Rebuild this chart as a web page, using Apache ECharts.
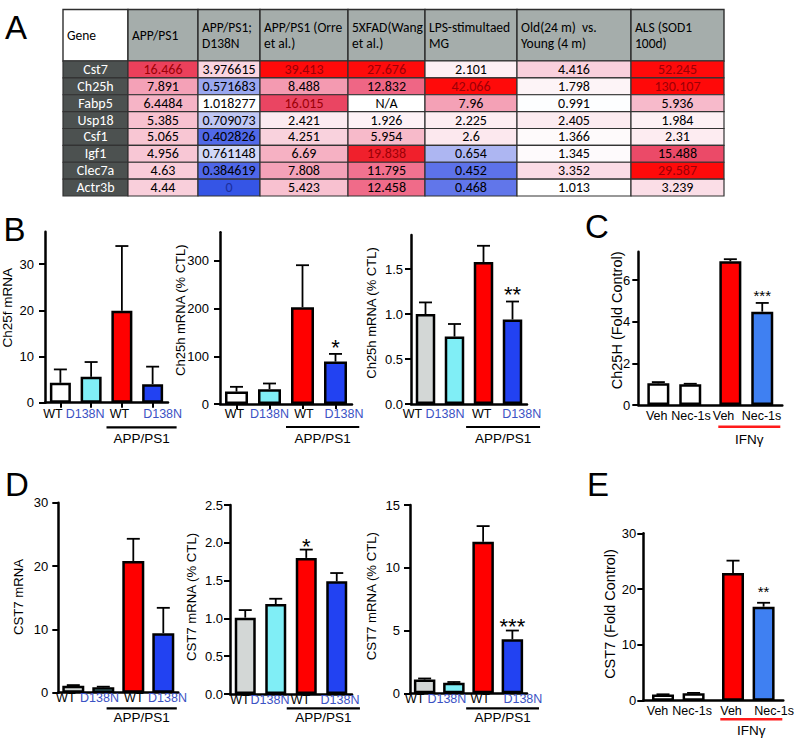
<!DOCTYPE html>
<html><head><meta charset="utf-8">
<script src="https://cdn.jsdelivr.net/npm/echarts@6/dist/echarts.min.js"></script>
<style>html,body{margin:0;padding:0;background:#fff}#c{width:796px;height:738px}</style>
</head><body><div id="c"></div>
<script>
// ================= DATA =================
// Panel A table
const genes = ['Cst7','Ch25h','Fabp5','Usp18','Csf1','Igf1','Clec7a','Actr3b'];
const geneHeader = 'Gene';
const tableColumns = ['APP/PS1','APP/PS1;\nD138N','APP/PS1 (Orre\net al.)','5XFAD(Wang\net al.)','LPS-stimultaed\nMG','Old(24 m)  vs.\nYoung (4 m)','ALS (SOD1\n100d)'];
const colAPP   = [16.466, 7.891, 6.4484, 5.385, 5.065, 4.956, 4.63, 4.44];
const colD138N = [3.976615, 0.571683, 1.018277, 0.709073, 0.402826, 0.761148, 0.384619, 0];
const colOrre  = [39.413, 8.488, 16.015, 2.421, 4.251, 6.69, 7.808, 5.423];
const col5XFAD = [27.676, 12.832, null, 1.926, 5.954, 19.838, 11.795, 12.458];
const colLPS   = [2.101, 42.066, 7.96, 2.225, 2.6, 0.654, 0.452, 0.468];
const colOld   = [4.416, 1.798, 0.991, 2.405, 1.366, 1.345, 3.352, 1.013];
const colALS   = [52.245, 130.107, 5.936, 1.984, 2.31, 15.488, 29.587, 3.239];

// Panels B / D (genotype groups)
const genotypeLabels = ['WT','D138N','WT','D138N'];
const genotypeGroup = 'APP/PS1';
const b1Mean = [4.3, 5.6, 19.9, 4.0];   const b1Sem = [2.9, 3.2, 14.0, 3.8];  const b1Sig = ['','','',''];
const b2Mean = [26, 31, 203, 89];       const b2Sem = [10, 12, 88, 16];       const b2Sig = ['','','','*'];
const b3Mean = [1.0, 0.75, 1.58, 0.94]; const b3Sem = [0.13, 0.14, 0.18, 0.20]; const b3Sig = ['','','','**'];
const d1Mean = [1.1, 0.85, 20.8, 9.4];  const d1Sem = [0.1, 0.1, 3.5, 4.0];   const d1Sig = ['','','',''];
const d2Mean = [1.01, 1.19, 1.80, 1.49]; const d2Sem = [0.10, 0.07, 0.11, 0.11]; const d2Sig = ['','','*',''];
const d3Mean = [1.1, 0.84, 12.07, 4.3]; const d3Sem = [0.08, 0.06, 1.25, 0.7]; const d3Sig = ['','','','***'];

// Panels C / E (treatment groups)
const conditionGroups = ['Control','IFNγ'];
const treatmentGroup = 'IFNγ';
const treatLabels = ['Veh','Nec-1s'];
const cVehMean = [1.04, 6.9];  const cVehSem = [0.06, 0.1];  const cVehSig = ['',''];
const cNecMean = [1.0, 4.48];  const cNecSem = [0.02, 0.42]; const cNecSig = ['','***'];
const eVehMean = [1.1, 22.9];  const eVehSem = [0.05, 2.2];  const eVehSig = ['',''];
const eNecMean = [1.35, 16.85]; const eNecSem = [0.05, 0.7]; const eNecSig = ['','**'];

// Axis tick labels
const b1Ticks = [0,10,20,30];
const b2Ticks = [0,100,200,300];
const b3Ticks = [0,0.5,1.0,1.5];
const cTicks  = [0,2,4,6];
const d1Ticks = [0,10,20,30];
const d2Ticks = [0,0.5,1.0,1.5,2.0,2.5];
const d3Ticks = [0,5,10,15];
const eTicks  = [0,10,20,30];

// ================= STYLE / LAYOUT =================
const FONT = "'Liberation Sans', Arial, Helvetica, sans-serif";
const TFONT = "Carlito, Lato, 'Open Sans', sans-serif";
const WHITE = '#ffffff', CYAN = '#80eef6', RED = '#ff0000', BLUE = '#2242f2', GRAY = '#d3d7d6', LBLUE = '#3f80f2';
const LABEL_BLUE = '#3b52c4';
const XLABEL_SIZE = 12.5;
const colorsB = [WHITE, CYAN, RED, BLUE];
const colorsD = [GRAY, CYAN, RED, BLUE];

const colEdges = [63,128,198,260,348,425,517,631,724];
const headTop = 9.5, headH = 51.5, bodyTop = 61, bodyH = 135;

const blueStops = [[0,'#3555e6'],[0.4,'#5068e8'],[0.47,'#6176ea'],[0.57,'#9aa8f0'],[0.66,'#aeb7f2'],[0.76,'#d2d8f7'],[1,'#ffffff']];
const redStops = [[1,'#ffffff'],[2,'#fdf1f5'],[3.3,'#fbdde6'],[4.4,'#f9d0dc'],[5.1,'#f8c5d3'],[6.5,'#f6b3c5'],[8,'#f4a0b6'],[12.5,'#f06a89'],[16,'#ea4562'],[20,'#f01e2a'],[28,'#ff0a0a'],[1000,'#ff0000']];
function hex(c){return [parseInt(c.slice(1,3),16),parseInt(c.slice(3,5),16),parseInt(c.slice(5,7),16)];}
function interp(stops, v){
  if (v <= stops[0][0]) return stops[0][1];
  for (let i=1;i<stops.length;i++){
    if (v <= stops[i][0]) {
      const t = (v - stops[i-1][0])/(stops[i][0]-stops[i-1][0]);
      const a = hex(stops[i-1][1]), b = hex(stops[i][1]);
      return 'rgb(' + a.map((x,j)=>Math.round(x+(b[j]-x)*t)).join(',') + ')';
    }
  }
  return stops[stops.length-1][1];
}
function cellColor(v){ if (v === null) return '#ffffff'; return v < 1 ? interp(blueStops, v) : interp(redStops, v); }
function cellText(v){ if (v === null) return '#000'; if (v >= 16) return '#9c0006'; if (v === 0) return '#1c2f9c'; return '#000'; }

const grids = [], xAxes = [], yAxes = [], series = [];
function addGrid(g, x, y){
  g.outerBoundsMode = 'none'; g.containLabel = false;
  grids.push(g); const i = grids.length - 1;
  x.gridIndex = i; y.gridIndex = i; xAxes.push(x); yAxes.push(y); return i;
}
function shiftPad(s){ return s >= 0 ? [0,0,0,2*s] : [0,-2*s,0,0]; }

// ---- Table ----
const headerNames = [geneHeader].concat(tableColumns);
const bodyCols = [null, colAPP, colD138N, colOrre, col5XFAD, colLPS, colOld, colALS];
headerNames.forEach((name, k) => {
  const left = colEdges[k], width = colEdges[k+1] - colEdges[k];
  const gh = addGrid({left, top: headTop, width, height: headH},
    {type:'category', data:[name], show:false},
    {type:'category', data:['header'], show:false});
  series.push({type:'custom', xAxisIndex:gh, yAxisIndex:gh, silent:true, data:[[0,0]],
    renderItem: (p, api) => {
      const c = api.coord([0,0]), s = api.size([1,1]);
      const x0 = c[0]-s[0]/2, y0 = c[1]-s[1]/2;
      return {type:'group', children:[
        {type:'rect', shape:{x:x0,y:y0,width:s[0],height:s[1]}, style:{fill: k===0?'#ffffff':'#a5adab', stroke:'#2e2e2e', lineWidth:1.4}},
        {type:'text', style:{text:name, x:x0+4, y:c[1], align:'left', verticalAlign:'middle', fill:'#000', fontSize:13.5, fontFamily:TFONT, lineHeight:16.5}}
      ]};
    }});
  const gb = addGrid({left, top: bodyTop, width, height: bodyH},
    {type:'category', data:[name], show:false},
    {type:'category', data:genes, inverse:true, show:false});
  const vals = bodyCols[k];
  series.push({type:'custom', xAxisIndex:gb, yAxisIndex:gb, silent:true, data: genes.map((g,i)=>[0,i]),
    renderItem: (p, api) => {
      const c = api.coord([0, api.value(1)]), s = api.size([1,1]);
      const x0 = c[0]-s[0]/2, y0 = c[1]-s[1]/2;
      let fill, txt, tcol;
      if (k === 0) { fill = '#4c5150'; txt = genes[p.dataIndex]; tcol = '#ffffff'; }
      else { const v = vals[p.dataIndex]; fill = cellColor(v); txt = v === null ? 'N/A' : String(v); tcol = cellText(v); }
      return {type:'group', children:[
        {type:'rect', shape:{x:x0,y:y0,width:s[0],height:s[1]}, style:{fill, stroke:'#333', lineWidth:1.2}},
        {type:'text', style:{text:txt, x:c[0], y:c[1], align:'center', verticalAlign:'middle', fill:tcol, fontSize:14, fontFamily:TFONT}}
      ]};
    }});
});

// ---- Helpers for bar charts ----
function errRender(sigs, offset, capHalf, starSize, starGap){
  return function(params, api){
    const x = api.value(0), m = api.value(1), s = api.value(2);
    const p0 = api.coord([x, m]), p1 = api.coord([x, m + s]);
    const cx = p0[0] + offset;
    const ch = [
      {type:'line', shape:{x1:cx, y1:p0[1], x2:cx, y2:p1[1]}, style:{stroke:'#000', lineWidth:1.8}},
      {type:'line', shape:{x1:cx-capHalf, y1:p1[1], x2:cx+capHalf, y2:p1[1]}, style:{stroke:'#000', lineWidth:1.8}}
    ];
    const sig = sigs[params.dataIndex];
    if (sig) ch.push({type:'text', style:{text:sig, x:cx, y:p1[1]-starGap+0.22*starSize, align:'center', verticalAlign:'middle', fill:'#000', fontSize:starSize, fontFamily:FONT}});
    return {type:'group', children:ch};
  };
}
function yAxisCfg(c){
  return {type:'value', min:0, max:c.yMax, interval:c.yInterval,
    name:c.name, nameLocation:'middle', nameGap:c.nameGap, nameRotate:90, nameMoveOverlap:false,
    nameTextStyle:{fontSize:c.nameSize, fontFamily:FONT, color:'#000', padding:shiftPad(c.nameShift)},
    axisLine:{show:true, lineStyle:{color:'#000', width:2.5}},
    axisTick:{show:true, length:6, lineStyle:{color:'#000', width:2}, customValues:c.yTicks},
    axisLabel:{fontSize:13, color:'#000', fontFamily:FONT, margin:c.yLabelMargin, customValues:c.yTicks,
      formatter: c.yFmt || (v => String(v))},
    splitLine:{show:false}};
}
function genotypeChart(c){
  const rich = {};
  c.labelShift.forEach((s, i) => {
    rich['s' + i] = {color: genotypeLabels[i] === 'WT' ? '#000' : LABEL_BLUE, fontSize:XLABEL_SIZE, fontFamily:FONT, padding:shiftPad(s)};
  });
  const gi = addGrid(c.grid,
    {type:'category', data:genotypeLabels,
      axisLine:{show:true, lineStyle:{color:'#000', width:2.5}},
      axisTick:{show:c.xTicks, alignWithLabel:true, length:5, lineStyle:{color:'#000', width:2}},
      axisLabel:{interval:0, margin:c.xLabelMargin, formatter: (v, i) => '{s' + i + '|' + v + '}', rich}},
    yAxisCfg(c));
  series.push({type:'bar', xAxisIndex:gi, yAxisIndex:gi, data:c.means, barWidth:c.barWidth, silent:true,
    itemStyle:{color: p => c.colors[p.dataIndex], borderColor:'#000', borderWidth:2.5}});
  series.push({type:'custom', xAxisIndex:gi, yAxisIndex:gi, silent:true, z:3,
    data:c.means.map((m,i)=>[i, m, c.sems[i]]), encode:{x:0, y:1},
    renderItem: errRender(c.sigs, 0, 6.5, c.starSize, c.starGap)});
  const br = c.bracket;
  series.push({type:'custom', xAxisIndex:gi, yAxisIndex:gi, silent:true, data:[[2, 0, 3]], encode:{x:0, y:1},
    renderItem: (p, api) => {
      const a = api.coord([api.value(0), 0]), b = api.coord([api.value(2), 0]);
      const band = api.size([1, 0])[0];
      const x1 = a[0] + br.l*band, x2 = b[0] + br.r*band;
      return {type:'group', children:[
        {type:'line', shape:{x1, y1:a[1]+br.lineDy, x2, y2:a[1]+br.lineDy}, style:{stroke:'#000', lineWidth:2.2}},
        {type:'text', style:{text:genotypeGroup, x:(x1+x2)/2, y:a[1]+br.textDy, align:'center', verticalAlign:'middle', fill:'#000', fontSize:13.5, fontFamily:FONT}}
      ]};
    }});
}
function treatmentChart(c){
  const gi = addGrid(c.grid,
    {type:'category', data:conditionGroups,
      axisLine:{show:true, lineStyle:{color:'#000', width:2.5}},
      axisTick:{show:false}, axisLabel:{show:false}},
    yAxisCfg(c));
  const gapPx = c.barWidth * c.barGapPct / 100;
  const off = (c.barWidth + gapPx) / 2;
  [0,1].forEach(t => {
    const rich = {};
    c.labelShift[t].forEach((s, i) => { rich['s' + i] = {color:'#000', fontSize:XLABEL_SIZE, fontFamily:FONT, padding:shiftPad(s)}; });
    series.push({type:'bar', name:treatLabels[t], xAxisIndex:gi, yAxisIndex:gi, data:c.means[t], barWidth:c.barWidth, barGap:c.barGapPct+'%', silent:true,
      itemStyle:{color: p => c.colors[t][p.dataIndex], borderColor:'#000', borderWidth:2.5},
      label:{show:true, position:'bottom', distance:c.labelDist, formatter: p => '{s' + p.dataIndex + '|' + p.seriesName + '}', rich}});
    series.push({type:'custom', xAxisIndex:gi, yAxisIndex:gi, silent:true, z:3,
      data:c.means[t].map((m,i)=>[i, m, c.sems[t][i]]), encode:{x:0, y:1},
      renderItem: errRender(c.sigs[t], t === 0 ? -off : off, 6.5, c.starSize, c.starGap)});
  });
  const br = c.bracket;
  series.push({type:'custom', xAxisIndex:gi, yAxisIndex:gi, silent:true, data:[[1, 0]], encode:{x:0, y:1},
    renderItem: (p, api) => {
      const a = api.coord([api.value(0), 0]);
      return {type:'group', children:[
        {type:'line', shape:{x1:a[0]-br.half+br.shift, y1:a[1]+br.lineDy, x2:a[0]+br.half+br.shift, y2:a[1]+br.lineDy}, style:{stroke:'#ff1a1a', lineWidth:2.6}},
        {type:'text', style:{text:treatmentGroup, x:a[0]+br.shift, y:a[1]+br.textDy, align:'center', verticalAlign:'middle', fill:'#000', fontSize:13.5, fontFamily:FONT}}
      ]};
    }});
}
const fmt1 = v => v.toFixed(1);

// ---- Panel B ----
genotypeChart({grid:{left:45, top:231.7, width:123, height:171}, yMax:37, yInterval:10, yTicks:b1Ticks,
  name:'Ch25f mRNA', nameGap:31, nameSize:13.5, nameShift:9.5, yLabelMargin:11, xLabelMargin:5, xTicks:true,
  labelShift:[-7.4,-6,-2.4,10],
  barWidth:21, colors:colorsB, means:b1Mean, sems:b1Sem, sigs:b1Sig, starSize:22, starGap:10,
  bracket:{l:-0.5, r:0.78, lineDy:24.6, textDy:35.3}});
genotypeChart({grid:{left:220, top:232.3, width:132, height:171.7}, yMax:360, yInterval:100, yTicks:b2Ticks,
  name:'Ch25h mRNA (% CTL)', nameGap:33, nameSize:13, nameShift:8, yLabelMargin:11, xLabelMargin:3.6, xTicks:true,
  labelShift:[-2,0,1.5,8.5],
  barWidth:23, colors:colorsB, means:b2Mean, sems:b2Sem, sigs:b2Sig, starSize:22, starGap:11,
  bracket:{l:-0.5, r:0.72, lineDy:23, textDy:34}});
genotypeChart({grid:{left:411, top:235, width:116, height:169}, yMax:1.88, yInterval:0.5, yTicks:b3Ticks, yFmt:fmt1,
  name:'Ch25h mRNA (% CTL)', nameGap:33, nameSize:13, nameShift:6.5, yLabelMargin:8, xLabelMargin:3.6, xTicks:false,
  labelShift:[-13,-9.5,-1.8,9.2],
  barWidth:19.5, colors:colorsD, means:b3Mean, sems:b3Sem, sigs:b3Sig, starSize:22, starGap:11.7,
  bracket:{l:-0.6, r:0.95, lineDy:23, textDy:34.3}});

// ---- Panel C ----
treatmentChart({grid:{left:638.3, top:251.7, width:144, height:153.3}, yMax:7.36, yInterval:2, yTicks:cTicks,
  name:'Ch25H (Fold Control)', nameGap:14, nameSize:14.5, nameShift:8, yLabelMargin:8,
  barWidth:22, barGapPct:45, labelDist:4, labelShift:[[-1.6,-6.8],[0.7,-0.8]],
  colors:[[WHITE, RED],[WHITE, LBLUE]], means:[cVehMean, cNecMean], sems:[cVehSem, cNecSem], sigs:[cVehSig, cNecSig],
  starSize:15, starGap:11, bracket:{half:31, shift:3, lineDy:21.7, textDy:34}});

// ---- Panel D ----
genotypeChart({grid:{left:58.3, top:502.7, width:120, height:190}, yMax:30, yInterval:10, yTicks:d1Ticks,
  name:'CST7 mRNA', nameGap:33, nameSize:13.2, nameShift:0.7, yLabelMargin:10, xLabelMargin:-1.4, xTicks:false,
  labelShift:[-7.5,-3.8,0.5,4.2],
  barWidth:22, colors:colorsD, means:d1Mean, sems:d1Sem, sigs:d1Sig, starSize:22, starGap:9,
  bracket:{l:-0.89, r:0.45, lineDy:15.6, textDy:24.6}});
genotypeChart({grid:{left:230, top:505, width:122, height:189}, yMax:2.5, yInterval:0.5, yTicks:d2Ticks, yFmt:fmt1,
  name:'CST7 mRNA (% CTL)', nameGap:31.7, nameSize:13.2, nameShift:2.5, yLabelMargin:7, xLabelMargin:-1, xTicks:false,
  labelShift:[-5.25,-5.75,-5.75,3.25],
  barWidth:21, colors:colorsD, means:d2Mean, sems:d2Sem, sigs:d2Sig, starSize:22, starGap:7.6,
  bracket:{l:-0.64, r:0.76, lineDy:14.3, textDy:23}});
genotypeChart({grid:{left:410, top:505, width:117, height:188.3}, yMax:15, yInterval:5, yTicks:d3Ticks,
  name:'CST7 mRNA (% CTL)', nameGap:32, nameSize:13.2, nameShift:3, yLabelMargin:10, xLabelMargin:-1, xTicks:false,
  labelShift:[-10,-7,-3,10.5],
  barWidth:21.5, colors:colorsD, means:d3Mean, sems:d3Sem, sigs:d3Sig, starSize:22, starGap:9,
  bracket:{l:-0.58, r:0.91, lineDy:15, textDy:24}});

// ---- Panel E ----
treatmentChart({grid:{left:643.3, top:533.3, width:140, height:167.4}, yMax:30, yInterval:10, yTicks:eTicks,
  name:'CST7 (Fold Control)', nameGap:26, nameSize:14.5, nameShift:3, yLabelMargin:7,
  barWidth:22, barGapPct:39, labelDist:3.6, labelShift:[[-5.5,-2],[-1.5,10.5]],
  colors:[[WHITE, RED],[WHITE, LBLUE]], means:[eVehMean, eNecMean], sems:[eVehSem, eNecSem], sigs:[eVehSig, eNecSig],
  starSize:15, starGap:14.7, bracket:{half:31, shift:3, lineDy:18.6, textDy:29.3}});

// ---- Panel letters ----
const panelLetters = [['A',5,10.5],['B',3.5,212.5],['C',585,209.5],['D',5,467.5],['E',587,467.5]];
const titles = panelLetters.map(([t,x,y]) => ({text:t, left:x, top:y, padding:0,
  textStyle:{fontSize:33, fontWeight:'normal', color:'#000', fontFamily:FONT}}));

const chart = echarts.init(document.getElementById('c'), null, {renderer:'svg'});
chart.setOption({animation:false, backgroundColor:'#ffffff', title:titles,
  grid:grids, xAxis:xAxes, yAxis:yAxes, series:series});
</script></body></html>
